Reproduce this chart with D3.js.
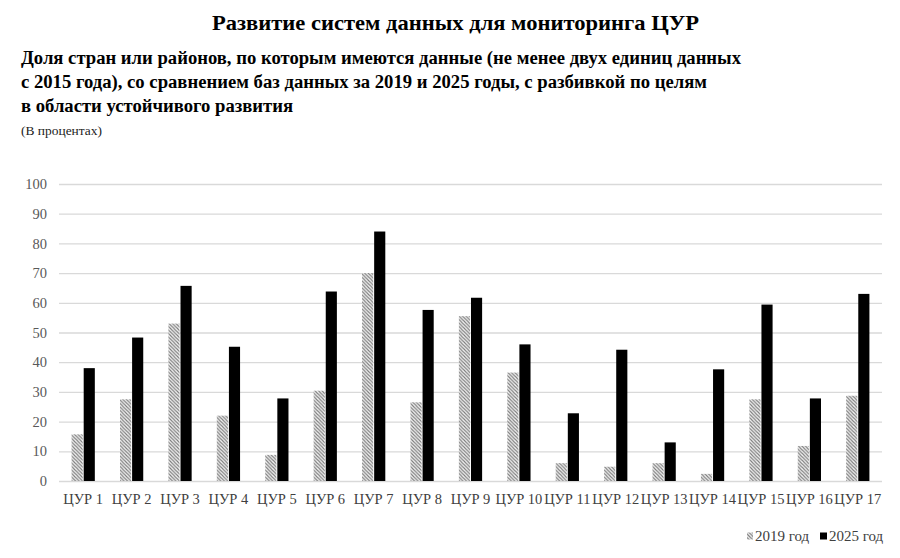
<!DOCTYPE html>
<html>
<head>
<meta charset="utf-8">
<script src="https://cdn.jsdelivr.net/npm/d3@7"></script>
<style>
  body { margin: 0; background: #fff; }
  text { font-family: "Liberation Serif", "Times New Roman", serif; }
</style>
</head>
<body>
<script>
const goals = ["ЦУР 1", "ЦУР 2", "ЦУР 3", "ЦУР 4", "ЦУР 5", "ЦУР 6", "ЦУР 7", "ЦУР 8", "ЦУР 9",
  "ЦУР 10", "ЦУР 11", "ЦУР 12", "ЦУР 13", "ЦУР 14", "ЦУР 15", "ЦУР 16", "ЦУР 17"];
const values2019 = [15.7, 27.5, 53, 22, 8.8, 30.4, 70, 26.5, 55.5, 36.5, 6, 4.8, 6, 2.4, 27.5, 11.8, 28.7];
const values2025 = [38, 48.3, 65.7, 45.2, 27.8, 63.8, 84, 57.6, 61.7, 46, 22.8, 44.2, 13, 37.6, 59.4, 27.8, 63];
const seriesNames = ["2019 год", "2025 год"];
const yTicks = [0, 10, 20, 30, 40, 50, 60, 70, 80, 90, 100];

const title = "Развитие систем данных для мониторинга ЦУР";
const subtitle = [
  "Доля стран или районов, по которым имеются данные (не менее двух единиц данных",
  "с 2015 года), со сравнением баз данных за 2019 и 2025 годы, с разбивкой по целям",
  "в области устойчивого развития"
];
const unitNote = "(В процентах)";

function createChart() {
  const svgWidth = 900, svgHeight = 558;
  const plot = { left: 59, right: 882, top: 184, bottom: 481 };

  const svg = d3.create("svg")
    .attr("width", svgWidth)
    .attr("height", svgHeight)
    .attr("viewBox", `0 0 ${svgWidth} ${svgHeight}`);

  // hatch for 2019
  const defs = svg.append("defs");
  const pat = defs.append("pattern")
    .attr("id", "hatch")
    .attr("patternUnits", "userSpaceOnUse")
    .attr("width", 3.5).attr("height", 3.5);
  pat.append("rect").attr("width", 3.5).attr("height", 3.5).attr("fill", "#f4f4f4");
  pat.append("path")
    .attr("d", "M-1,-1 L4.5,4.5 M-1,2.5 L1,4.5 M2.5,-1 L4.5,1")
    .attr("stroke", "#7a7a7a")
    .attr("stroke-width", 1.1);

  // headings
  svg.append("text")
    .attr("x", 212).attr("y", 30)
    .attr("font-size", 21).attr("font-weight", "bold").attr("fill", "#000")
    .attr("textLength", 487).attr("lengthAdjust", "spacingAndGlyphs")
    .text(title);

  const subLens = [720, 686, 272];
  svg.selectAll("text.sub")
    .data(subtitle)
    .join("text")
    .attr("class", "sub")
    .attr("x", 21)
    .attr("y", (d, i) => 64 + i * 24)
    .attr("font-size", 18.5).attr("font-weight", "bold").attr("fill", "#000")
    .attr("textLength", (d, i) => subLens[i]).attr("lengthAdjust", "spacingAndGlyphs")
    .text(d => d);

  svg.append("text")
    .attr("x", 21).attr("y", 135)
    .attr("font-size", 12).attr("fill", "#222")
    .attr("textLength", 81).attr("lengthAdjust", "spacingAndGlyphs")
    .text(unitNote);

  // scales
  const x = d3.scaleBand()
    .domain(goals)
    .range([plot.left, plot.right])
    .paddingInner(0.48)
    .paddingOuter(0.24);
  const x1 = d3.scaleBand()
    .domain(seriesNames)
    .range([0, x.bandwidth()])
    .padding(0.08);
  const y = d3.scaleLinear()
    .domain([0, 100])
    .range([plot.bottom, plot.top]);

  // grid + y labels
  const gy = svg.append("g")
    .attr("transform", `translate(${plot.left},0)`)
    .call(d3.axisLeft(y).tickValues(yTicks).tickSize(-(plot.right - plot.left)).tickPadding(12));
  gy.select(".domain").remove();
  gy.selectAll(".tick line").attr("stroke", "#d9d9d9").attr("stroke-width", 1.3);
  gy.selectAll(".tick text")
    .attr("font-family", "'Liberation Serif', 'Times New Roman', serif")
    .attr("font-size", 14.5).attr("fill", "#595959");

  // bars
  const rows = goals.map((g, i) => ({ goal: g, vals: [values2019[i], values2025[i]] }));
  const groups = svg.append("g").selectAll("g")
    .data(rows)
    .join("g")
    .attr("transform", d => `translate(${x(d.goal)},0)`);
  groups.selectAll("rect")
    .data(d => d.vals.map((v, k) => ({ key: seriesNames[k], v })))
    .join("rect")
    .attr("x", d => x1(d.key))
    .attr("width", x1.bandwidth())
    .attr("y", d => y(d.v))
    .attr("height", d => y(0) - y(d.v))
    .attr("fill", d => d.key === seriesNames[0] ? "url(#hatch)" : "#000");

  // x labels
  const gx = svg.append("g")
    .attr("transform", `translate(0,${plot.bottom})`)
    .call(d3.axisBottom(x).tickSize(0).tickPadding(13));
  gx.select(".domain").remove();
  gx.selectAll(".tick text")
    .attr("font-family", "'Liberation Serif', 'Times New Roman', serif")
    .attr("font-size", 14.5).attr("fill", "#404040");

  // legend
  const legend = svg.append("g").attr("transform", "translate(0,536)");
  const legendItems = [
    { name: seriesNames[0], x: 747, fill: "url(#hatch)", w: 6 },
    { name: seriesNames[1], x: 820, fill: "#000", w: 7 }
  ];
  legend.selectAll("rect")
    .data(legendItems)
    .join("rect")
    .attr("x", d => d.x).attr("y", -3.5)
    .attr("width", d => d.w).attr("height", 7)
    .attr("fill", d => d.fill);
  legend.selectAll("text")
    .data(legendItems)
    .join("text")
    .attr("x", d => d.x + d.w + 2).attr("y", 5)
    .attr("font-size", 15).attr("fill", "#404040")
    .text(d => d.name);

  document.body.append(svg.node());
}

createChart();
</script>
</body>
</html>
